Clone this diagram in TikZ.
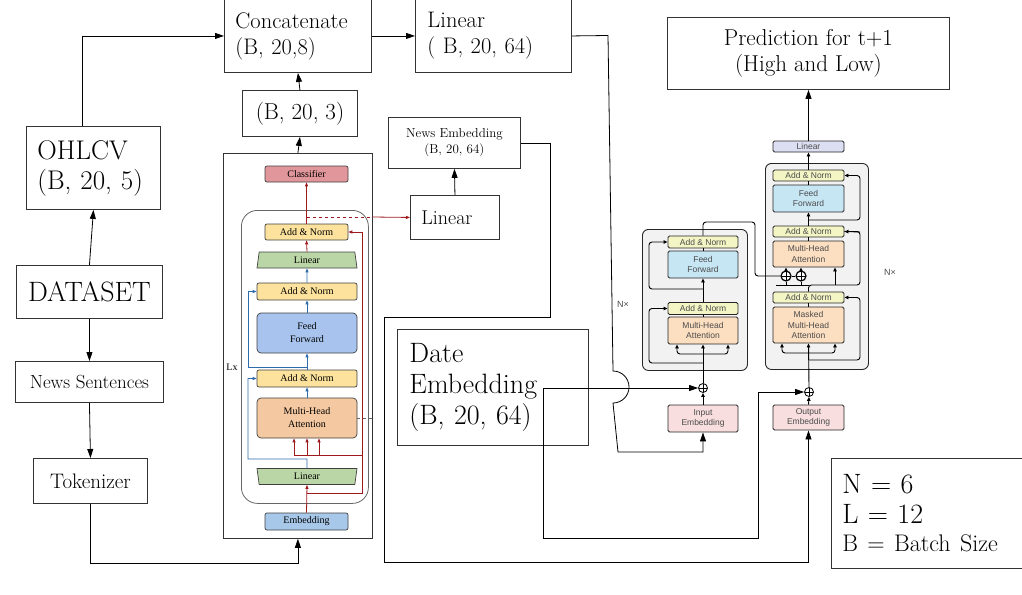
\documentclass[tikz,border=0pt]{standalone}
\usepackage{fontspec}
\newfontfamily\tsans{Liberation Sans}
\newfontfamily\btimes{Liberation Serif}
\usetikzlibrary{positioning, arrows.meta, shapes.geometric}

\definecolor{bred}{RGB}{158,26,30}
\definecolor{bblue}{RGB}{44,108,172}
\definecolor{clsfill}{RGB}{224,150,154}
\definecolor{banfill}{RGB}{252,226,156}
\definecolor{blinfill}{RGB}{186,214,166}
\definecolor{bfffill}{RGB}{168,196,238}
\definecolor{bmhafill}{RGB}{244,200,160}
\definecolor{bembfill}{RGB}{168,200,234}
\definecolor{tanfill}{RGB}{243,245,196}
\definecolor{tfffill}{RGB}{198,230,244}
\definecolor{tmhafill}{RGB}{252,222,192}
\definecolor{tembfill}{RGB}{248,222,222}
\definecolor{tlinfill}{RGB}{220,222,242}

\tikzset{
  box/.style={draw=black!80, line width=0.9pt, anchor=north west, inner xsep=11pt, align=left},
  cbox/.style={draw=black!80, line width=0.9pt, anchor=north west, align=center},
  arr/.style={-{Triangle[length=9pt,width=6pt]}, line width=0.8pt},
  blk/.style={draw=black!75, line width=0.7pt, rounded corners=2pt, inner sep=0pt, minimum width=100pt, font=\btimes\fontsize{10}{13}\selectfont, align=center},
  btrap/.style={blk, trapezium, trapezium stretches body, sharp corners, fill=blinfill, minimum height=16pt},
  rarr/.style={-{Triangle[length=4pt,width=3pt]}, bred, line width=0.8pt},
  barr/.style={-{Triangle[length=4pt,width=3pt]}, bblue, line width=0.8pt},
  tblk/.style={draw=black!85, line width=0.9pt, rounded corners=1.5pt, inner sep=0pt, minimum width=70pt, font=\tsans\fontsize{8.5}{10.5}\selectfont, text=black!70, align=center},
  tarr/.style={-{Triangle[length=4pt,width=3.5pt]}, line width=0.9pt},
  tbg/.style={draw=black!85, line width=0.9pt, fill=black!5, rounded corners=6pt, anchor=north west},
  plus/.style={circle, draw, line width=0.8pt, inner sep=0pt, minimum size=9pt, fill=white,
    path picture={\draw[line width=0.6pt] (path picture bounding box.north) -- (path picture bounding box.south)
      (path picture bounding box.west) -- (path picture bounding box.east);}},
}

\begin{document}
\begin{tikzpicture}[x=1pt, y=-1pt]
\useasboundingbox (0,0) rectangle (1022,594);

% data side
\node[cbox, minimum width=146pt, minimum height=53pt, font=\fontsize{28}{32}\selectfont] (dataset) at (16,265) {DATASET};
\node[box, minimum width=134pt, minimum height=83pt, text width=112pt, font=\fontsize{27}{30}\selectfont] (ohlcv) at (26,126) {OHLCV\\(B, 20, 5)};
\node[cbox, minimum width=148pt, minimum height=41pt, font=\fontsize{19}{22}\selectfont] (newssent) at (15,361) {News Sentences};
\node[cbox, minimum width=114pt, minimum height=45pt, font=\fontsize{21}{24}\selectfont] (tokenizer) at (33,458) {Tokenizer};

\node[box, minimum width=147pt, minimum height=73pt, text width=125pt, font=\fontsize{22.5}{26}\selectfont] (concat) at (224,-1) {Concatenate\\(B, 20,8)};
\node[box, minimum width=156pt, minimum height=73pt, text width=132pt, font=\fontsize{22.5}{26}\selectfont] (linout) at (415,-1) {Linear\\( B, 20, 64)};
\node[cbox, minimum width=115pt, minimum height=46pt, font=\fontsize{23}{26}\selectfont] (shape3) at (242,90) {(B, 20, 3)};
\node[cbox, minimum width=132pt, minimum height=51pt, font=\fontsize{13}{16}\selectfont] (newsemb) at (388,117) {News Embedding\\(B, 20, 64)};
\node[box, minimum width=89pt, minimum height=44pt, text width=67pt, font=\fontsize{20}{24}\selectfont] (linsmall) at (410,195) {Linear};
\node[box, minimum width=191pt, minimum height=116pt, text width=167pt, inner xsep=12pt, font=\fontsize{28}{31}\selectfont] (dateemb) at (397,329) {Date\\Embedding\\(B, 20, 64)};
\node[cbox, minimum width=282pt, minimum height=72pt, font=\fontsize{23}{26}\selectfont] (pred) at (667,17) {Prediction for t+1\\(High and Low)};
\node[box, minimum width=200pt, minimum height=110pt, text width=178pt, font=\fontsize{28}{30}\selectfont] (params) at (831,458) {N = 6\\L = 12\\[-2pt]\fontsize{24}{29}\selectfont B = Batch Size};

% news encoder (bert)
\node[draw=black!80, line width=0.8pt, anchor=north west, minimum width=149pt, minimum height=385pt] (bert) at (223,153) {};
\node[draw=black!60, line width=0.8pt, rounded corners=16pt, anchor=north west, minimum width=127pt, minimum height=293pt] (bertbg) at (241,210) {};
\node[blk, fill=clsfill, minimum width=83pt, minimum height=16pt] (cls) at (306.5,174) {Classifier};
\node[blk, fill=banfill, minimum width=83pt, minimum height=16pt] (ban2) at (306.5,232) {Add \& Norm};
\node[btrap, trapezium angle=72] (blin2) at (307,260) {Linear};
\node[blk, fill=banfill, minimum height=17pt] (ban1) at (307,291.5) {Add \& Norm};
\node[blk, fill=bfffill, rounded corners=4pt, minimum height=40pt] (bff) at (307,333) {Feed\\Forward};
\node[blk, fill=banfill, minimum height=17pt] (ban0) at (307,378.5) {Add \& Norm};
\node[blk, fill=bmhafill, rounded corners=4pt, minimum height=40pt] (bmha) at (307,418) {Multi-Head\\Attention};
\node[btrap, trapezium angle=108] (blin1) at (307,476.5) {Linear};
\node[blk, fill=bembfill, minimum width=83pt, minimum height=17pt] (bemb) at (306.5,521.5) {Embedding};
\node[font=\btimes\fontsize{10}{12}\selectfont] (lx) at (232,367) {Lx};

\draw[rarr] (bemb.north) -- (blin1.south);
\draw[rarr] (307,493) -| (362,232) -- (ban2.east);
\draw[bred, line width=0.8pt] (294,455) -- (362,455);
\foreach \x in {294,307,319}
  \draw[rarr] (\x,455) -- (\x,0 |- bmha.south);
\draw[barr] (blin1.north) -- (307,459) -| (248,378.5) -- (ban0.west);
\draw[barr] (bmha.north) -- (ban0.south);
\draw[barr] (ban0.north) -- (bff.south);
\draw[barr] (307,367) -| (248,291.5) -- (ban1.west);
\draw[barr] (bff.north) -- (ban1.south);
\draw[barr] (ban1.north) -- (blin2.south);
\draw[rarr] (blin2.north) -- (ban2.south);
\draw[rarr] (ban2.north) -- (cls.south);
\draw[bred, dashed, line width=0.8pt] (307,217) -- (372,217);
\draw[rarr] (372,217) -- (linsmall.west);
\draw[black!60, dashed, line width=0.7pt] (bmha.east) -- (372,418);

% transformer encoder
\node[tbg, minimum width=105pt, minimum height=141pt] (encbg) at (642,229) {};
\node[tblk, fill=tanfill, minimum height=12pt] (encan2) at (703,242) {Add \& Norm};
\node[tblk, fill=tfffill, minimum height=27pt] (encff) at (703,264.5) {Feed\\Forward};
\node[tblk, fill=tanfill, minimum height=12pt] (encan1) at (703,308.5) {Add \& Norm};
\node[tblk, fill=tmhafill, minimum height=27pt] (encmha) at (703,330.5) {Multi-Head\\Attention};
\node[plus] (inplus) at (703,388) {};
\node[tblk, fill=tembfill, minimum height=27pt] (inemb) at (703,418.5) {Input\\Embedding};
\node[font=\tsans\fontsize{9}{11}\selectfont, text=black!70] (encn) at (623,304) {N×};

\draw[tarr] (inemb.north) -- (inplus.south);
\draw[tarr] (inplus.north) -- (encmha.south);
\draw[tarr, rounded corners=3pt] (703,354) -| (677,0 |- encmha.south);
\draw[tarr, rounded corners=3pt] (703,354) -| (728,0 |- encmha.south);
\draw[tarr, rounded corners=3pt] (703,363) -| (649,308.5) -- (encan1.west);
\draw[line width=0.9pt] (encmha.north) -- (encan1.south);
\draw[tarr] (encan1.north) -- (encff.south);
\draw[tarr, rounded corners=3pt] (703,289) -| (649,242) -- (encan2.west);
\draw[line width=0.9pt] (encff.north) -- (encan2.south);

% transformer decoder
\node[tblk, fill=tlinfill, minimum width=71pt, minimum height=11pt] (declin) at (808.5,146.5) {Linear};
\node[tbg, minimum width=103pt, minimum height=206pt] (decbg) at (765,163) {};
\node[tblk, fill=tanfill, minimum width=71pt, minimum height=11pt] (decan3) at (808.5,175.5) {Add \& Norm};
\node[tblk, fill=tfffill, minimum width=71pt, minimum height=27pt] (decff) at (808.5,198.5) {Feed\\Forward};
\node[tblk, fill=tanfill, minimum width=71pt, minimum height=11pt] (decan2) at (808.5,231.5) {Add \& Norm};
\node[tblk, fill=tmhafill, minimum width=71pt, minimum height=26pt] (decmha) at (808.5,254) {Multi-Head\\Attention};
\node[plus, line width=1.2pt, minimum size=10pt] (kplus) at (786,276) {};
\node[plus, line width=1.2pt, minimum size=10pt] (vplus) at (801,276) {};
\node[tblk, fill=tanfill, minimum width=71pt, minimum height=11pt] (decan1) at (808.5,297.5) {Add \& Norm};
\node[tblk, fill=tmhafill, minimum width=71pt, minimum height=36pt] (decmmha) at (808.5,325) {Masked\\Multi-Head\\Attention};
\node[plus] (outplus) at (809,392) {};
\node[tblk, fill=tembfill, minimum width=71pt, minimum height=25pt] (outemb) at (808.5,417.5) {Output\\Embedding};
\node[font=\tsans\fontsize{9}{11}\selectfont, text=black!70] (decn) at (890,272) {N×};

\draw[tarr] (outemb.north) -- (outplus.south);
\draw[tarr] (outplus.north) -- (decmmha.south);
\draw[tarr, rounded corners=3pt] (809,353) -| (782,0 |- decmmha.south);
\draw[tarr, rounded corners=3pt] (809,353) -| (835,0 |- decmmha.south);
\draw[tarr, rounded corners=3pt] (809,360) -| (860,297.5) -- (decan1.east);
\draw[line width=0.9pt] (decmmha.north) -- (decan1.south);
\draw[line width=0.9pt, rounded corners=3pt] (decan1.north) |- (860,285) |- (decan2.east);
\draw[tarr] (835,285) -- (835,0 |- decmha.south);
\draw[line width=0.9pt] (776,285) -- (809,285);
\draw[line width=0.9pt] (kplus.south) -- (786,285) (vplus.south) -- (801,285);
\draw[tarr] (kplus.north) -- (kplus.north |- decmha.south);
\draw[tarr] (vplus.north) -- (vplus.north |- decmha.south);
\draw[-{Triangle[length=4pt,width=3.5pt]}, line width=0.9pt] (860,232) -- (decan2.east);
\draw[line width=0.9pt] (decmha.north) -- (decan2.south);
\draw[tarr] (decan2.north) -- (decff.south);
\draw[tarr, rounded corners=3pt] (809,220) -| (860,175.5) -- (decan3.east);
\draw[line width=0.9pt] (decff.north) -- (decan3.south);
\draw[tarr] (decan3.north) -- (declin.south);
\draw[line width=0.9pt, rounded corners=3pt] (encan2.north) |- (755,222) |- (kplus.west);
\draw[line width=0.9pt] (kplus.east) -- (vplus.west);

% connectors
\draw[arr] (dataset.north) -- (ohlcv.south);
\draw[arr] ([xshift=-11pt]ohlcv.north) |- (concat.west);
\draw[arr] (dataset.south) -- (newssent.north);
\draw[arr] (newssent.south) -- (tokenizer.north);
\draw[arr] (tokenizer.south) -- ++(0,59) -| (bert.south);
\draw[arr] (bert.north) -- (shape3.south);
\draw[arr] (shape3.north) -- (concat.south);
\draw[arr] (concat.east) -- (linout.west);
\draw[arr] (linsmall.north) -- (newsemb.south);
\draw[arr] (linout.east) -- (608,35.5) -- (613,371) arc[start angle=90, end angle=-90, radius=16pt] -- (618,452) -| (inemb.south);
\draw[arr] (newsemb.east) -| (550,317) -| (384,562) -| (outemb.south);
\coordinate (dsrc) at (543,388);
\draw[arr] (dsrc) -- (inplus.west);
\draw[arr] (dsrc) |- (758,538) |- (outplus.west);
\draw[arr] (declin.north) -- (pred.south -| declin.north);
\end{tikzpicture}
\end{document}
